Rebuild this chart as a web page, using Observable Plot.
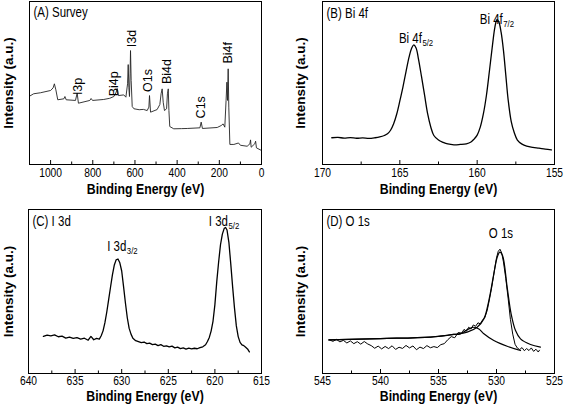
<!DOCTYPE html>
<html><head><meta charset="utf-8">
<script src="https://cdn.jsdelivr.net/npm/d3@7"></script>
<script src="https://cdn.jsdelivr.net/npm/@observablehq/plot@0.6"></script>
<style>
html,body{margin:0;padding:0;background:#fff;}
#fig{position:relative;width:567px;height:406px;overflow:hidden;background:#fff;}
#fig > svg{position:absolute;overflow:visible;}
</style></head><body><div id="fig"></div>
<script>
// ---------- Panel A: survey ----------
const surveyEV = [1100,1080,1048,1000,988,982,975,966,937,932,926,882,874,868,814,808,801,748,720,700,689,684,678,653,643,635,632,629,626,623,621,618,613,605,580,560,542,534,531,526,495,482,476,471,466,460,450,446,442,439,435,416,380,352,292,286,280,210,191,182,174,168,164,161,158,155,150,131,109,100,68,55,52,49,32,28,24,0];
const surveyI  = [41.9,43.4,44,45.4,47,49.5,45.8,39.7,40.3,41.7,39.7,39.3,43.8,37.6,39.3,40.5,39.3,39.9,40.6,41.7,44.4,46.6,42.3,42.7,41.3,49.5,61.3,47.4,41.7,55.6,69.9,51.5,35.6,34.2,33.6,33.8,33.1,35.2,42.3,32.1,33.7,36.8,43.4,46.4,38.2,33.1,34.2,43.4,46.4,33.1,23.3,21.9,22.0,22.1,22.5,26,22.1,22.7,23.9,24.9,22.9,39.3,50.5,39.3,58.7,35.2,12.3,12.3,13.2,11.8,11.2,12.7,15.1,10.6,12.7,14.3,10.2,8.6];
const surveyPeakNames = ["I3p","Bi4p","I3d","O1s","Bi4d","C1s","Bi4f"];
const surveyPeakEV    = [872,700,614,540,446,289,156.5];
const surveyPeakI     = [47.9,49.5,77.3,51.5,57,35.1,68.5];
const surveyTicks = [1000,800,600,400,200,0];
const surveyMinor = [900,700,500,300,100];

// ---------- Panel B: Bi 4f ----------
const bi4fEV = [169.4,169.0,168.6,168.2,167.8,167.4,167.0,166.6,166.3,166.0,165.8,165.6,165.4,165.2,165.0,164.8,164.6,164.4,164.25,164.1,163.95,163.8,163.6,163.4,163.2,163.0,162.8,162.5,162.2,161.9,161.5,161.1,160.7,160.4,160.2,160.0,159.8,159.6,159.4,159.2,159.0,158.85,158.72,158.6,158.45,158.3,158.15,158.0,157.8,157.6,157.4,157.1,156.8,156.4,156.0,155.6,155.2];
const bi4fI  = [16.4,16.6,16.2,16.5,16.1,16.3,16.0,16.4,16.9,17.8,18.8,21.0,25.0,31.0,39.0,47.5,57.0,66.0,71.0,73.4,71.5,65.0,54.0,42.5,31.0,23.0,17.8,15.0,13.6,12.6,12.1,12.3,12.7,13.8,15.6,18.0,22.9,31.0,42.5,58.0,74.0,84.5,88.8,87.5,81.0,70.0,55.0,40.0,26.5,19.5,15.0,12.5,11.3,10.5,10.0,9.4,9.0];
const bi4fLabelMain = ["Bi 4f","Bi 4f"];
const bi4fLabelSub  = ["5/2","7/2"];
const bi4fLabelEV   = [165.06,159.83];
const bi4fLabelI    = [74.4,86.3];
const bi4fTicks = [170,165,160,155];
const bi4fMinor = [167.5,162.5,157.5];

// ---------- Panel C: I 3d ----------
const i3dEV = [638.4,638.0,637.6,637.2,636.8,636.4,636.0,635.6,635.2,634.8,634.4,634.0,633.6,633.3,633.0,632.7,632.4,632.2,632.0,631.8,631.6,631.4,631.2,631.0,630.8,630.6,630.4,630.2,630.0,629.8,629.6,629.4,629.2,629.0,628.8,628.5,628.2,627.9,627.6,627.3,627.0,626.7,626.4,626.1,625.8,625.5,625.2,624.9,624.6,624.3,624.0,623.7,623.4,623.1,622.8,622.5,622.2,621.9,621.6,621.3,621.0,620.8,620.6,620.4,620.2,620.0,619.8,619.6,619.4,619.2,619.0,618.85,618.7,618.5,618.3,618.1,617.9,617.7,617.5,617.3,617.1,616.9,616.7,616.5,616.3];
const i3dI  = [22.6,23.4,22.9,23.5,22.4,22.8,21.6,22.2,21.4,21.9,21.0,21.5,20.3,22.6,20.6,21.4,21.0,23.0,26.0,31.0,37.5,45.0,52.6,60.0,66.0,69.3,69.8,67.5,62.5,53.0,43.0,34.0,27.5,24.0,21.5,20.0,19.4,18.8,19.2,18.2,18.5,17.6,17.9,17.0,17.6,16.6,16.9,16.2,16.7,15.6,16.1,15.2,15.6,14.9,15.5,15.0,15.4,15.1,15.8,16.3,17.5,19.5,22.0,26.0,32.0,42.0,56.0,68.0,78.5,85.0,88.5,89.0,87.5,80.0,67.0,53.0,40.0,29.0,22.5,19.0,17.5,17.0,16.0,15.0,13.2];
const i3dLabelMain = ["I 3d","I 3d"];
const i3dLabelSub  = ["3/2","5/2"];
const i3dLabelEV   = [631.56,620.65];
const i3dLabelI    = [75,90.2];
const i3dTicks = [640,635,630,625,620,615];
const i3dMinor = [637.5,632.5,627.5,622.5,617.5];

// ---------- Panel D: O 1s ----------
const o1sEV = [544.4,544.1,543.8,543.5,543.2,542.9,542.6,542.3,542.0,541.7,541.4,541.1,540.8,540.5,540.2,539.9,539.6,539.3,539.0,538.7,538.4,538.1,537.8,537.5,537.2,536.9,536.6,536.3,536.0,535.7,535.4,535.1,534.8,534.5,534.2,533.9,533.6,533.3,533.0,532.8,532.6,532.4,532.2,532.0,531.8,531.6,531.4,531.2,531.0,530.8,530.6,530.4,530.2,530.0,529.85,529.7,529.55,529.4,529.2,529.0,528.8,528.6,528.4,528.2,528.0,527.8,527.6,527.4,527.2,527.0,526.8,526.6,526.4,526.3];
const o1sI  = [20.5,19.6,20.8,19.3,20.2,18.6,19.9,18.2,19.4,17.9,19.5,18.0,17.0,15.4,16.7,15.0,16.5,15.2,16.9,14.7,16.0,15.3,17.1,15.6,16.8,14.5,16.1,15.2,17.0,15.7,16.4,15.8,17.6,18.2,20.6,22.5,21.8,25.0,24.6,26.9,25.8,28.2,27.1,29.6,28.8,30.9,30.3,32.6,34.2,38.5,45.5,53.0,62.0,70.5,74.5,75.8,73.5,68.0,58.0,46.0,33.0,24.0,17.8,15.5,14.6,15.8,13.9,15.2,14.0,15.6,13.5,14.8,13.1,14.2];
const o1sFit1EV = [544.45,540,535.69,533.68,532.53,531.67,531.09,530.66,530.23,529.94,529.71,529.48,529.08,528.74,528.36,527.93,527.07,526.21];
const o1sFit1I  = [20.5,21.3,22.2,23.8,25.2,28.2,33.3,44.5,60.8,70.9,74,72,52.6,36.4,26.2,21.1,17.7,16.1];
const o1sFit2EV = [544.45,540,535.69,533.68,533.1,532.39,531.95,531.52,531.09,530.23,529.08,527.93];
const o1sFit2I  = [20.5,21.3,22.2,23.8,24.2,27.2,28.2,27.2,24.2,20.1,16.6,14];
const o1sLabel = ["O 1s"];
const o1sLabelEV = [530.66];
const o1sLabelI = [82.7];
const o1sTicks = [545,540,535,530,525];
const o1sMinor = [542.5,537.5,532.5,527.5];

const panelTitles = ["(A) Survey","(B) Bi 4f","(C) I 3d","(D) O 1s"];
const xTitle = "Binding Energy (eV)";
const yTitle = "Intensity (a.u.)";

// ---------- drawing ----------
const SANS = '"Liberation Sans",Arial,Helvetica,sans-serif';
const SQUEEZE = 0.82; // horizontal text compression seen in the reference
const fig = document.getElementById("fig");
const ctx = document.createElement("canvas").getContext("2d");
function textWidth(s, size) { ctx.font = size + "px " + SANS; return ctx.measureText(s).width * SQUEEZE; }

const pts = (xs, ys) => xs.map((x, i) => ({x, y: ys[i]}));

function condense(svg) {
  svg.querySelectorAll("text").forEach(t => {
    const tr = t.getAttribute("transform") || "";
    if (/rotate/.test(tr)) return;
    const xa = t.getAttribute("x");
    const x = xa !== null && !isNaN(+xa) ? +xa : 0;
    t.setAttribute("transform", `${tr} translate(${x},0) scale(${SQUEEZE},1) translate(${-x},0)`);
  });
}

function panel(cfg) {
  const innerH = cfg.height - cfg.mt - cfg.mb;
  const marks = [
    Plot.ruleX(cfg.major, {x: d => d, insetTop: innerH - 4, stroke: "#000", strokeWidth: 1}),
    Plot.ruleX(cfg.minor, {x: d => d, insetTop: innerH - 2.5, stroke: "#000", strokeWidth: 1}),
    ...cfg.marks,
    Plot.frame({stroke: "#000", strokeWidth: 1}),
    Plot.text([cfg.title], {frameAnchor: "top-left", dx: 4, dy: cfg.titleDy, fontFamily: SANS, fontSize: 14, fill: "#000"}),
    Plot.text([xTitle], {frameAnchor: "bottom", lineAnchor: "middle", textAnchor: "middle", dy: cfg.xTitleDy, fontFamily: SANS, fontSize: 15, fontWeight: "bold", fill: "#000"}),
    Plot.text([yTitle], {frameAnchor: "left", lineAnchor: "middle", textAnchor: "middle", rotate: -90, dx: cfg.yTitleDx, fontFamily: SANS, fontSize: 13.5, fontWeight: "bold", fill: "#000"})
  ];
  const svg = Plot.plot({
    width: cfg.width, height: cfg.height,
    marginLeft: cfg.ml, marginRight: cfg.mr, marginTop: cfg.mt, marginBottom: cfg.mb,
    x: {domain: cfg.domain, ticks: cfg.major, tickSize: 0, tickPadding: cfg.tickPad, tickFormat: d => String(d), label: null},
    y: {domain: [0, 100], axis: null},
    style: {fontFamily: SANS, fontSize: "12.5px", color: "#000", background: "transparent", overflow: "visible"},
    marks
  });
  condense(svg);
  svg.style.left = cfg.left + "px";
  svg.style.top = cfg.top + "px";
  fig.appendChild(svg);
}

function subLabels(main, sub, ev, inten, size, subSize) {
  const rows = main.map((m, i) => ({m, s: sub[i], x: ev[i], y: inten[i]}));
  const w = textWidth(main[0], size);
  return [
    Plot.text(rows, {x: "x", y: "y", text: "m", textAnchor: "start", lineAnchor: "bottom", fontFamily: SANS, fontSize: size, fill: "#000"}),
    Plot.text(rows, {x: "x", y: "y", text: "s", textAnchor: "start", lineAnchor: "bottom", dx: w + 0.5, dy: 3, fontFamily: SANS, fontSize: subSize, fill: "#000"})
  ];
}

// A
panel({left: 0, top: 0, width: 280, height: 200, ml: 29, mr: 19, mt: 1, mb: 36,
  domain: [1100, 0], major: surveyTicks, minor: surveyMinor, tickPad: 4,
  title: panelTitles[0], titleDy: 6, xTitleDy: 25, yTitleDx: -20.5,
  marks: [
    Plot.line(pts(surveyEV, surveyI), {x: "x", y: "y", stroke: "#222", strokeWidth: 0.9}),
    Plot.text(surveyPeakNames.map((n, i) => ({n, x: surveyPeakEV[i], y: surveyPeakI[i]})),
      {x: "x", y: "y", text: "n", rotate: -90, textAnchor: "middle", lineAnchor: "middle", fontFamily: SANS, fontSize: 12.5, fill: "#000"})
  ]});

// B
panel({left: 280, top: 0, width: 287, height: 200, ml: 42, mr: 13, mt: 1, mb: 36,
  domain: [170, 155], major: bi4fTicks, minor: bi4fMinor, tickPad: 4,
  title: panelTitles[1], titleDy: 7, xTitleDy: 25, yTitleDx: -22,
  marks: [
    Plot.line(pts(bi4fEV, bi4fI), {x: "x", y: "y", stroke: "#000", strokeWidth: 1.3, curve: "catmull-rom"}),
    ...subLabels(bi4fLabelMain, bi4fLabelSub, bi4fLabelEV, bi4fLabelI, 14, 9.5)
  ]});

// C
panel({left: 0, top: 200, width: 280, height: 206, ml: 28, mr: 19, mt: 9, mb: 33,
  domain: [640, 615], major: i3dTicks, minor: i3dMinor, tickPad: 3,
  title: panelTitles[2], titleDy: 7, xTitleDy: 23, yTitleDx: -19.5,
  marks: [
    Plot.line(pts(i3dEV, i3dI), {x: "x", y: "y", stroke: "#000", strokeWidth: 1.3}),
    ...subLabels(i3dLabelMain, i3dLabelSub, i3dLabelEV, i3dLabelI, 14, 9.5)
  ]});

// D
panel({left: 280, top: 200, width: 287, height: 206, ml: 42, mr: 13, mt: 9, mb: 33,
  domain: [545, 525], major: o1sTicks, minor: o1sMinor, tickPad: 3,
  title: panelTitles[3], titleDy: 7, xTitleDy: 23, yTitleDx: -22,
  marks: [
    Plot.line(pts(o1sFit2EV, o1sFit2I), {x: "x", y: "y", stroke: "#000", strokeWidth: 1.2, curve: "catmull-rom"}),
    Plot.line(pts(o1sFit1EV, o1sFit1I), {x: "x", y: "y", stroke: "#000", strokeWidth: 1.2, curve: "catmull-rom"}),
    Plot.line(pts(o1sEV, o1sI), {x: "x", y: "y", stroke: "#000", strokeWidth: 1}),
    Plot.text(o1sLabel.map((t, i) => ({t, x: o1sLabelEV[i], y: o1sLabelI[i]})),
      {x: "x", y: "y", text: "t", textAnchor: "start", lineAnchor: "bottom", fontFamily: SANS, fontSize: 14, fill: "#000"})
  ]});
</script></body></html>
